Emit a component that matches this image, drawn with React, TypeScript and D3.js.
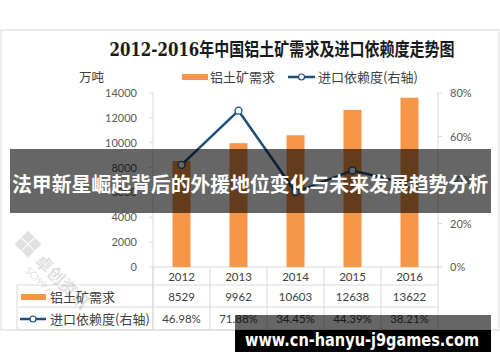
import { scaleBand, scaleLinear, line } from "d3";

const years = ["2012", "2013", "2014", "2015", "2016"];
const demand = [8529, 9962, 10603, 12638, 13622];
const dependence = [46.98, 71.88, 34.45, 44.39, 38.21];
const leftTicks = [0, 2000, 4000, 6000, 8000, 10000, 12000, 14000];
const rightTicks = [0, 20, 40, 60, 80];

const W = 500, H = 362;
const plot = { left: 153, right: 438, top: 93, bottom: 267 };
const tableLeft = 17;
const rowLines = [285, 307, 330];

const CJK = "'Noto Sans CJK SC', 'Noto Sans', sans-serif";
const NUM = "Lato, 'Noto Sans', sans-serif";
const ORANGE = "#f79646";
const BLUE = "#1f4e79";
const GRID = "#d9d9d9";
const TXT = "#404040";

export default function App() {
  const x = scaleBand().domain(years).range([plot.left, plot.right]);
  const yL = scaleLinear().domain([0, 14000]).range([plot.bottom, plot.top]);
  const yR = scaleLinear().domain([0, 80]).range([plot.bottom, plot.top]);
  const cx = (d: string) => (x(d) as number) + x.bandwidth() / 2;
  const barW = 18;

  const path = line<number>()
    .x((_, i) => cx(years[i]))
    .y((d) => yR(d))(dependence) as string;

  return (
    <div style={{ position: "fixed", left: 0, top: 0 }}>
      <svg width={W} height={H} style={{ display: "block", background: "#fff" }}>
        <rect x={1} y={30} width={498} height={300} fill="#fff" stroke={GRID} />

        <text x={282} y={56} textAnchor="middle" fontFamily="'DejaVu Serif', 'Noto Sans CJK SC', serif"
          fontWeight="bold" fontSize={18} fill="#1a1a1a" textLength={345} lengthAdjust="spacingAndGlyphs">
          2012-2016年中国铝土矿需求及进口依赖度走势图
        </text>

        <text x={79} y={82} fontFamily={CJK} fontSize={12.5} fill={TXT}>万吨</text>

        {/* legend */}
        <rect x={182} y={74} width={26} height={6} fill={ORANGE} />
        <text x={210} y={82} fontFamily={CJK} fontSize={13} fill={TXT}>铝土矿需求</text>
        <line x1={288} x2={315} y1={77} y2={77} stroke={BLUE} strokeWidth={2.5} />
        <circle cx={301.5} cy={77} r={3} fill="#fff" stroke={BLUE} strokeWidth={1.2} />
        <text x={318} y={82} fontFamily={CJK} fontSize={13} fill={TXT}>进口依赖度(右轴)</text>

        {/* axes */}
        <line x1={plot.left} x2={plot.left} y1={plot.top} y2={330} stroke={GRID} />
        <line x1={plot.right} x2={plot.right} y1={plot.top} y2={330} stroke={GRID} />
        <line x1={plot.left} x2={plot.right + 4} y1={plot.bottom} y2={plot.bottom} stroke={GRID} />
        {leftTicks.map((t) => (
          <g key={t}>
            <line x1={plot.left - 4} x2={plot.left} y1={yL(t)} y2={yL(t)} stroke={GRID} />
            <text x={137} y={yL(t) + 4} textAnchor="end" fontFamily={NUM} fontSize={11} fill="#595959">{t}</text>
          </g>
        ))}
        {rightTicks.map((t) => (
          <g key={t}>
            <line x1={plot.right} x2={plot.right + 4} y1={yR(t)} y2={yR(t)} stroke={GRID} />
            <text x={450} y={yR(t) + 4} fontFamily={NUM} fontSize={11} fill="#595959">{t}%</text>
          </g>
        ))}

        {/* bars */}
        {demand.map((v, i) => (
          <rect key={years[i]} x={cx(years[i]) - barW / 2} y={yL(v)} width={barW}
            height={plot.bottom - yL(v)} fill={ORANGE} />
        ))}

        {/* line */}
        <path d={path} fill="none" stroke={BLUE} strokeWidth={2.5} />
        {dependence.map((v, i) => (
          <circle key={years[i]} cx={cx(years[i])} cy={yR(v)} r={3.5} fill="#fff" stroke={BLUE} strokeWidth={1.3} />
        ))}

        {/* data table */}
        {years.map((yr) => (
          <line key={yr} x1={x(yr) as number} x2={x(yr) as number} y1={plot.bottom} y2={330} stroke={GRID} />
        ))}
        {rowLines.map((ry) => (
          <line key={ry} x1={tableLeft} x2={plot.right} y1={ry} y2={ry} stroke={GRID} />
        ))}
        <line x1={tableLeft} x2={tableLeft} y1={285} y2={330} stroke={GRID} />
        {years.map((yr, i) => (
          <g key={yr} fontFamily={NUM} fontSize={11.5} fill={TXT} textAnchor="middle">
            <text x={cx(yr)} y={281}>{yr}</text>
            <text x={cx(yr)} y={301}>{demand[i]}</text>
            <text x={cx(yr)} y={323}>{dependence[i].toFixed(2)}%</text>
          </g>
        ))}
        <rect x={21} y={294} width={25} height={6} fill={ORANGE} />
        <text x={50} y={301.5} fontFamily={CJK} fontSize={13} fill={TXT}>铝土矿需求</text>
        <line x1={20} x2={46} y1={319} y2={319} stroke={BLUE} strokeWidth={2.5} />
        <circle cx={33} cy={319} r={3} fill="#fff" stroke={BLUE} strokeWidth={1.2} />
        <text x={50} y={323.5} fontFamily={CJK} fontSize={13} fill={TXT}>进口依赖度(右轴)</text>

        {/* faint logo watermark */}
        <g opacity={0.22} fill="#777" transform="translate(28,245) rotate(45)">
          <rect x={-10} y={-10} width={9} height={9} />
          <rect x={0} y={-10} width={9} height={9} />
          <rect x={-10} y={0} width={9} height={9} />
          <rect x={0} y={0} width={9} height={9} />
          <text x={16} y={8} fontFamily={CJK} fontWeight="bold" fontSize={17}>卓创资讯</text>
          <text x={16} y={21} fontFamily={NUM} fontSize={10}>SCI99.com</text>
        </g>

        {/* overlay banner */}
        <rect x={10} y={149} width={481} height={64} fill="rgba(0,0,0,0.6)" />
        <text x={250} y={192} textAnchor="middle" fontFamily={CJK} fontWeight="bold" fontSize={20}
          fill="#fff" textLength={476} lengthAdjust="spacingAndGlyphs">
          法甲新星崛起背后的外援地位变化与未来发展趋势分析
        </text>

        <rect x={235} y={315} width={256} height={15} fill="rgba(0,0,0,0.6)" />
        <rect x={235} y={330} width={256} height={22} fill="#000" />
        <text x={245} y={346} fontFamily="'DejaVu Sans', sans-serif" fontWeight="bold" fontSize={17}
          fill="#fff" textLength={234} lengthAdjust="spacingAndGlyphs">
          www.cn-hanyu-j9games.com
        </text>
      </svg>
    </div>
  );
}
